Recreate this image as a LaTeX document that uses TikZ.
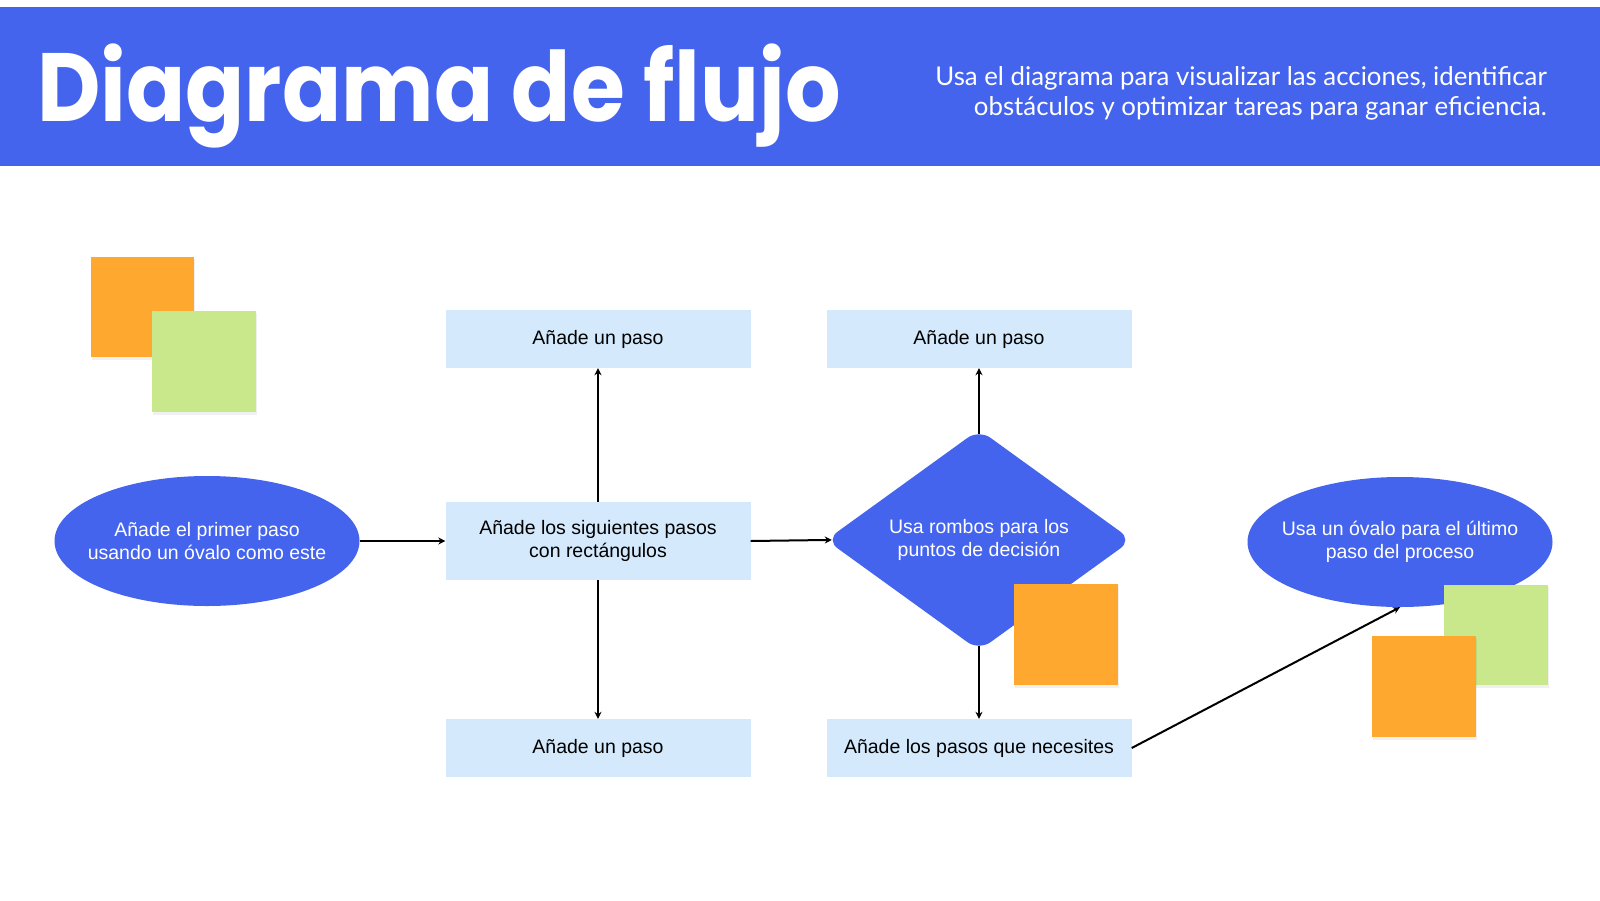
\documentclass[tikz,border=0pt]{standalone}
\usepackage{fontspec}
\setmainfont{Liberation Sans}
\newfontfamily\titlefont{Poppins}[FakeStretch=0.9]
\newfontfamily\subfont{Lato}
\usetikzlibrary{shapes.geometric,arrows.meta}
\definecolor{hdrblue}{HTML}{4464EE}
\definecolor{boxblue}{HTML}{D4EAFC}
\definecolor{noteorange}{HTML}{FEA82F}
\definecolor{notegreen}{HTML}{C9E88B}
\tikzset{
  stepbox/.style={fill=boxblue, minimum width=305pt, minimum height=58pt, inner sep=0pt,
    align=center, text=black, font=\fontsize{19.5}{23}\selectfont},
  oval/.style={ellipse, fill=hdrblue, minimum width=305pt, minimum height=130pt,
    inner xsep=-30pt, inner ysep=0pt,
    align=center, text=white, font=\fontsize{19.5}{23}\selectfont},
  decision/.style={diamond, fill=hdrblue, minimum width=306pt, minimum height=212pt, inner sep=0pt,
    rounded corners=14pt, align=center, text=white, font=\fontsize{19.5}{23}\selectfont},
  flow/.style={-{Stealth[length=7pt,width=7pt]}, line width=2pt, black},
  notefill/.style={fill=#1},
  noteshadow/.style={fill=black, fill opacity=0.06}
}
\newcommand{\stickynote}[5]{%
  \fill[noteshadow] (#1+1,#2+2) rectangle (#3+1,#4+3);
  \fill[notefill=#5] (#1,#2) rectangle (#3,#4);
}
\begin{document}
\begin{tikzpicture}[x=1pt,y=-1pt]
  \useasboundingbox (0,0) rectangle (1600,900);
  \fill[white] (0,0) rectangle (1600,900);
  % header
  \fill[hdrblue] (0,7) rectangle (1600,166);
  \node[anchor=base west, inner sep=0pt, text=white, font=\titlefont\bfseries\fontsize{97}{100}\selectfont]
    (title) at (37,121) {Diagrama de flujo};
  \node[anchor=base east, inner sep=0pt, text=white, align=right, font=\subfont\fontsize{25.8}{29.5}\selectfont]
    (subtitle) at (1547,115) {Usa el diagrama para visualizar las acciones, identificar\\obstáculos y optimizar tareas para ganar eficiencia.};
  % sticky notes top-left
  \stickynote{91}{257}{194}{357}{noteorange}
  \stickynote{152}{311}{256}{412}{notegreen}
  % nodes
  \node[oval] (start) at (207,541) {Añade el primer paso\\usando un óvalo como este};
  \node[stepbox, minimum height=78pt] (steps) at (598,541) {Añade los siguientes pasos\\con rectángulos};
  \node[stepbox] (topA) at (598,339) {Añade un paso};
  \node[stepbox] (botA) at (598,748) {Añade un paso};
  \node[decision] (dec) at (979,540) {Usa rombos para los\\puntos de decisión};
  \node[stepbox] (topB) at (979,339) {Añade un paso};
  \node[stepbox] (botB) at (979,748) {Añade los pasos que necesites};
  \node[oval] (end) at (1400,542) {Usa un óvalo para el último\\paso del proceso};
  % connectors
  \draw[flow] (start.east) -- (steps.west);
  \draw[flow] (steps.north) -- (topA.south);
  \draw[flow] (steps.south) -- (botA.north);
  \draw[flow, shorten >=-6pt] (steps.east) -- (dec.west);
  \draw[flow, shorten <=-5pt] (dec.north) -- (topB.south);
  \draw[flow, shorten <=-5pt] (dec.south) -- (botB.north);
  \draw[flow] (botB.east) -- (end.south);
  % sticky notes over shapes
  \stickynote{1014}{584}{1118}{685}{noteorange}
  \stickynote{1444}{585}{1548}{685}{notegreen}
  \stickynote{1372}{636}{1476}{737}{noteorange}
\end{tikzpicture}
\end{document}
